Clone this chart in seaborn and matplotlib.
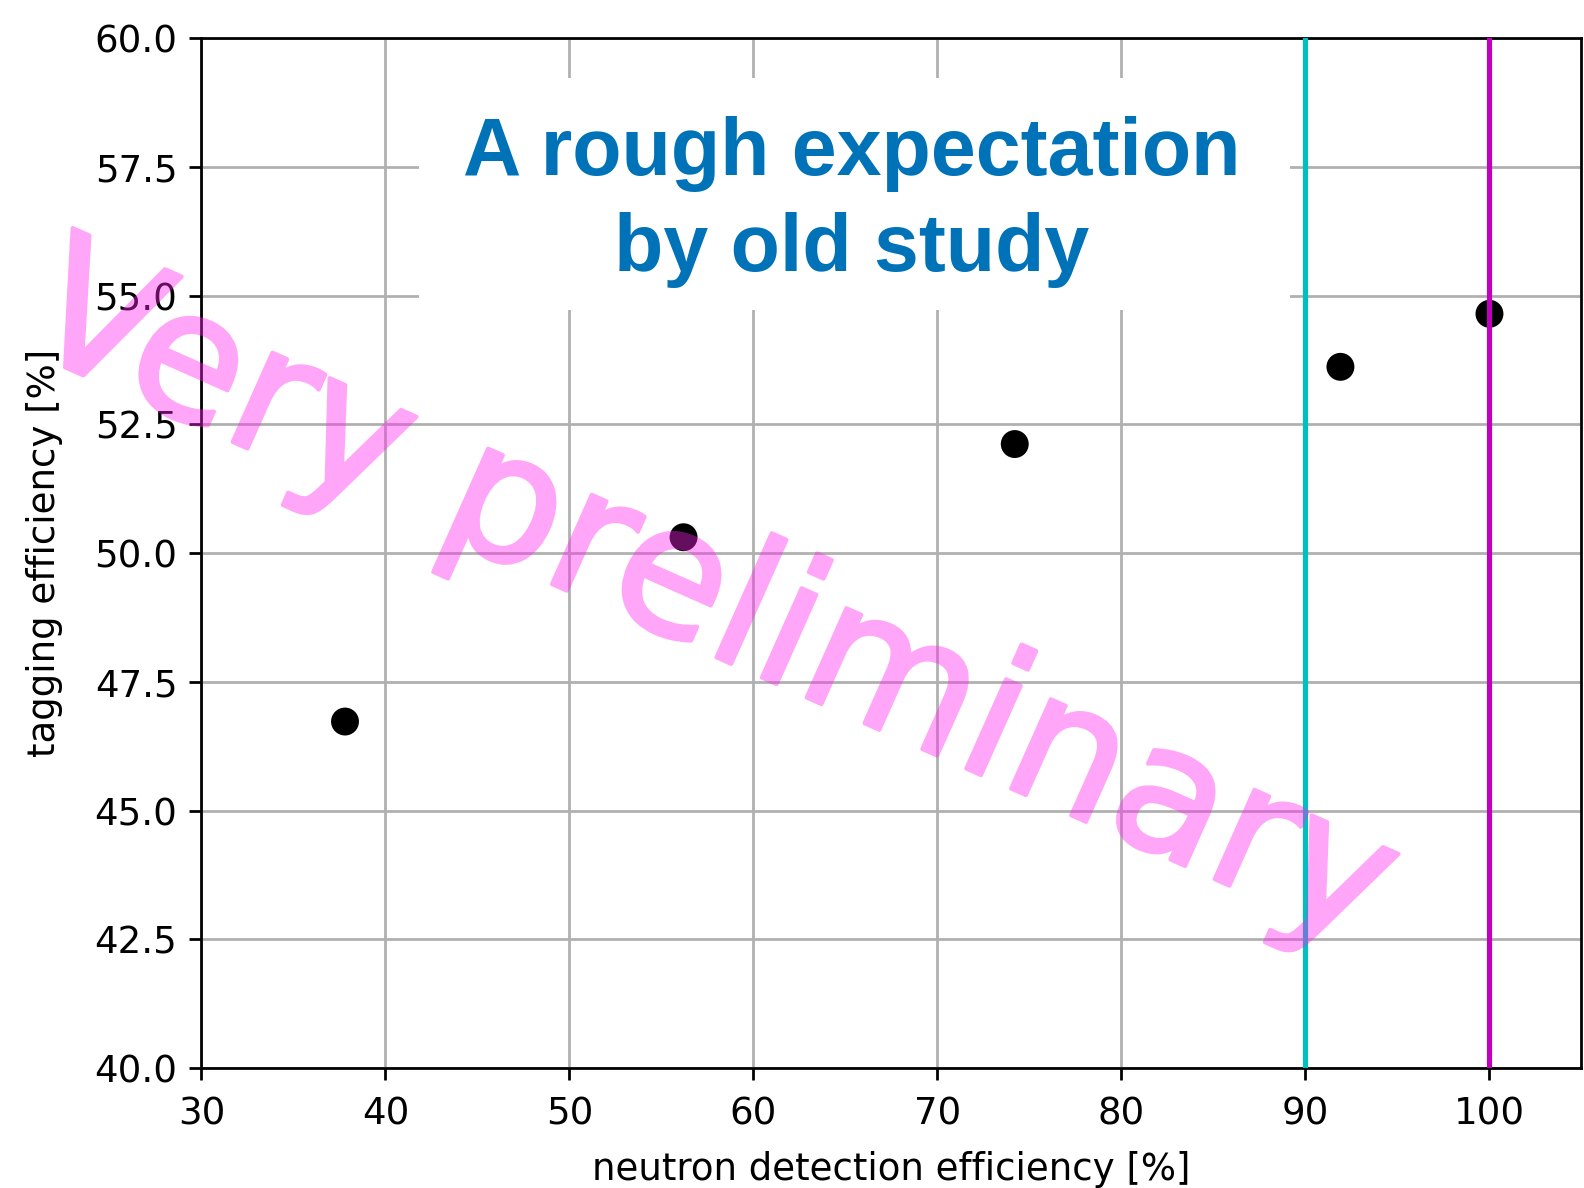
import matplotlib
matplotlib.use("Agg")
import matplotlib.pyplot as plt
import matplotlib.patheffects as pe
from matplotlib.patches import Rectangle
import numpy as np
import pandas as pd
import seaborn as sns

# Neutron detection efficiency vs. tagging efficiency
neutron_eff = [37.8, 56.2, 74.2, 91.9, 100.0]
tagging_eff = [46.73, 50.31, 52.12, 53.62, 54.65]
ref_lines = [90, 100]
ref_colors = ["#00bfbf", "#bf00bf"]
x_ticks = [30, 40, 50, 60, 70, 80, 90, 100]
y_ticks = [40.0, 42.5, 45.0, 47.5, 50.0, 52.5, 55.0, 57.5, 60.0]

note_lines = ["A rough expectation", "by old study"]
stamp_text = "Very preliminary"

df = pd.DataFrame({"neutron": neutron_eff, "tagging": tagging_eff})

sns.set_theme(style="ticks", rc={
    "axes.edgecolor": "black",
    "axes.linewidth": 0.8,
    "xtick.major.width": 0.8,
    "ytick.major.width": 0.8,
    "xtick.major.size": 3.5,
    "ytick.major.size": 3.5,
    "xtick.color": "black",
    "ytick.color": "black",
    "text.color": "black",
    "axes.labelcolor": "black",
})
plt.rcParams["font.family"] = ["DejaVu Sans"]
plt.rcParams["font.size"] = 10.8

W, H = 1584, 1188
fig = plt.figure(figsize=(6.4, 4.8), dpi=247.5)
ax = fig.add_axes([0.1272, 0.1010, 0.8712, 0.8667])

sns.scatterplot(data=df, x="neutron", y="tagging", ax=ax, color="black",
                s=66, edgecolor="none", zorder=2.5, legend=False)
for xv, col in zip(ref_lines, ref_colors):
    ax.axvline(xv, color=col, lw=1.5, zorder=3)

ax.set_xlim(30, 105)
ax.set_ylim(40, 60)
ax.set_xticks(x_ticks)
ax.set_yticks(y_ticks)
ax.set_yticklabels([f"{v:.1f}" for v in y_ticks])
ax.tick_params(labelsize=10.8)
ax.tick_params(axis="x", pad=4.5)
ax.grid(True, color="#b0b0b0", lw=0.8)
ax.set_axisbelow(True)
ax.set_xlabel("neutron detection efficiency [%]", fontsize=10.8, labelpad=5.5)
ax.set_ylabel("tagging efficiency [%]", fontsize=10.8, labelpad=9)

# white panel carrying the note
fig.add_artist(Rectangle((419 / W, 1 - 310 / H), (1290 - 419) / W, (310 - 78) / H,
                         transform=fig.transFigure, facecolor="white",
                         edgecolor="none", zorder=1))
for line, base in zip(note_lines, [175, 271]):
    fig.text(852 / W, 1 - base / H, line, ha="center", va="baseline",
             fontsize=23.5, fontweight="bold", color="#0072b8",
             family=["Liberation Sans", "DejaVu Sans"], zorder=3)


# diagonal stamp: drawn opaque, then made translucent as one layer
def fade(image, dpi):
    out = image.copy()
    out[..., 3] *= 0.4
    return out, 0, 0


stamp = fig.text(691 / W, 1 - 646 / H, stamp_text, ha="center", va="baseline",
                 rotation=-24, rotation_mode="anchor", fontsize=52,
                 color="#ff22ee", family=["DejaVu Sans"], zorder=4)
stamp.set_path_effects([pe.Stroke(linewidth=1.2, foreground="#ff22ee",
                                  capstyle="round", joinstyle="round"),
                        pe.Normal()])
stamp.set_agg_filter(fade)

fig.savefig("out.png", dpi=247.5)
